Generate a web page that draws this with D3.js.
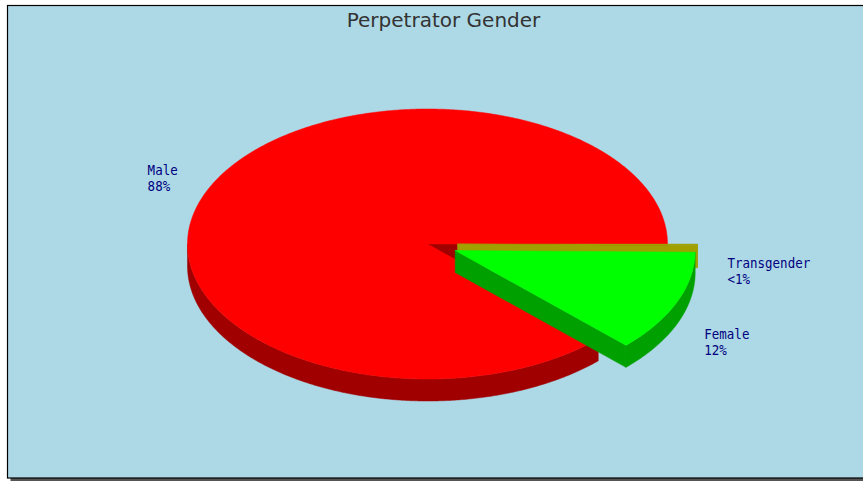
<!DOCTYPE html>
<html>
<head>
<meta charset="utf-8">
<script src="https://cdn.jsdelivr.net/npm/d3@7"></script>
<style>
  html, body { margin: 0; padding: 0; background: #ffffff; }
  svg { display: block; }
</style>
</head>
<body>
<svg id="chart" width="863" height="482"></svg>
<script>
// ---- data ----
const title = "Perpetrator Gender";
const categories = ["Male", "Female", "Transgender"];
const values = [87.6, 12.2, 0.2];
const exploded = [false, true, true];
// ---- styles ----
const topColors = ["#FF0000", "#00FF00", "#A0A000"];
const sideColors = ["#A00000", "#00A000", "#A0A000"];

const W = 863, H = 482;
const svg = d3.select("#chart");

// frame with shadow
const frame = { x: 7.5, y: 5.5, w: 872, h: 472.5 };
svg.append("rect").attr("x", frame.x + 3).attr("y", frame.y + 3)
  .attr("width", frame.w).attr("height", frame.h).attr("fill", "#555");
svg.append("rect").attr("x", frame.x).attr("y", frame.y)
  .attr("width", frame.w).attr("height", frame.h)
  .attr("fill", "#ADD8E6").attr("stroke", "#000").attr("stroke-width", 1.2);

svg.append("text")
  .attr("x", frame.x + frame.w / 2).attr("y", 27)
  .attr("text-anchor", "middle")
  .attr("font-family", "DejaVu Sans, sans-serif")
  .attr("font-size", 20)
  .attr("fill", "#333")
  .text(title);

// pie geometry
const cx = 427.5, cy = 244, rx = 240, ry = 135, depth = 22, explodeDist = 30;
const total = d3.sum(values);

const pie = d3.pie().sort(null).value(d => d)
  .startAngle(Math.PI / 2).endAngle(Math.PI / 2 - 2 * Math.PI);
const arcs = pie(values);

// convert d3 pie angles (clockwise from 12 o'clock) to screen angles (clockwise from 3 o'clock)
const slices = arcs.map((a, i) => {
  const s0 = a.startAngle - Math.PI / 2, s1 = a.endAngle - Math.PI / 2;
  const lo = Math.min(s0, s1), hi = Math.max(s0, s1);
  const mid = (lo + hi) / 2;
  const ox = exploded[i] ? explodeDist * Math.cos(mid) : 0;
  const oy = exploded[i] ? explodeDist * Math.sin(mid) * ry / rx : 0;
  return { i, lo, hi, mid, ox, oy, value: values[i] };
});

function pt(s, t, dz) {
  return [cx + s.ox + rx * Math.cos(t), cy + s.oy + ry * Math.sin(t) + (dz || 0)];
}
function samples(a, b) {
  const n = Math.max(2, Math.ceil(Math.abs(b - a) / (Math.PI / 360)));
  return d3.range(n + 1).map(k => a + (b - a) * k / n);
}
const line = d3.line();

const g = svg.append("g");
// draw back slices first
const order = slices.slice().sort((a, b) =>
  (cy + a.oy + ry * Math.sin(a.mid)) - (cy + b.oy + ry * Math.sin(b.mid)));

order.forEach(s => {
  const side = sideColors[s.i], top = topColors[s.i];
  const apex = [cx + s.ox, cy + s.oy];
  // curved outer wall: front half (sin > 0)
  for (let k = -2; k <= 1; k++) {
    const a = Math.max(s.lo, 2 * Math.PI * k), b = Math.min(s.hi, 2 * Math.PI * k + Math.PI);
    if (b > a) {
      const ts = samples(a, b);
      const pts = ts.map(t => pt(s, t)).concat(ts.slice().reverse().map(t => pt(s, t, depth)));
      g.append("path").attr("d", line(pts) + "Z").attr("fill", side).attr("stroke", side).attr("stroke-width", 0.5);
    }
  }
  // radial walls facing the viewer
  const walls = [];
  if (Math.cos(s.lo) < 0) walls.push(s.lo);
  if (Math.cos(s.hi) > 0) walls.push(s.hi);
  walls.forEach(t => {
    const r = pt(s, t);
    const pts = [apex, r, [r[0], r[1] + depth], [apex[0], apex[1] + depth]];
    g.append("path").attr("d", line(pts) + "Z").attr("fill", side).attr("stroke", side).attr("stroke-width", 0.5);
  });
  // top face
  const topPts = [apex].concat(samples(s.lo, s.hi).map(t => pt(s, t)));
  g.append("path").attr("d", line(topPts) + "Z").attr("fill", top).attr("stroke", top).attr("stroke-width", 0.5);
});

// labels
const fmt = v => (v / total * 100 < 1 ? "<1%" : Math.round(v / total * 100) + "%");
const lineH = 16, capH = 10.5, charW = 7.53;
slices.forEach(s => {
  const c = Math.cos(s.mid), sn = Math.sin(s.mid);
  const x = cx + s.ox + (rx + 30) * c;
  const y = cy + s.oy + (ry + 36) * sn + 12;
  const anchor = c >= 0 ? "start" : "end";
  const base1 = sn >= -0.05 ? y + capH : y - lineH;
  const lines = [categories[s.i], fmt(s.value)];
  const maxLen = d3.max(lines, l => l.length);
  lines.forEach((l, k) => {
    const lx = anchor === "start" ? x : x - maxLen * charW;
    svg.append("text")
      .attr("transform", `translate(${lx},${base1 + k * lineH}) scale(1,1.18)`)
      .attr("font-family", "DejaVu Sans Mono, monospace")
      .attr("font-size", 12.5)
      .attr("fill", "#000080")
      .text(l);
  });
});
</script>
</body>
</html>
